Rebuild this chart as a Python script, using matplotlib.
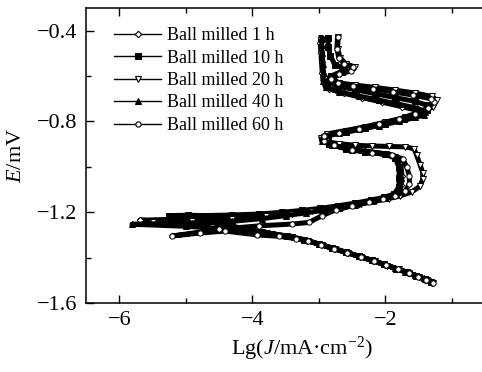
import matplotlib
matplotlib.use('Agg')
import matplotlib.pyplot as plt
from matplotlib.lines import Line2D

plt.rcParams['font.family'] = ['Liberation Serif', 'DejaVu Serif']
plt.rcParams['mathtext.fontset'] = 'custom'
plt.rcParams['mathtext.rm'] = 'Liberation Serif'
plt.rcParams['mathtext.it'] = 'Liberation Serif:italic'

# Tafel curves, points: (lg J, E), cathodic end -> anodic end
j_1h = [-1.30, -1.40, -1.52, -1.66, -1.82, -2.00, -2.18, -2.38, -2.58, -2.78, -2.98, -3.18, -3.40, -3.75,
        -4.20, -4.80, -5.30, -5.69, -5.00, -4.40, -3.90, -3.50, -3.20, -2.92, -2.66, -2.40, -2.16, -1.96,
        -1.82, -1.76, -1.75, -1.77, -1.83, -2.00, -2.30, -2.60, -2.85, -2.95, -2.90, -2.65, -2.35, -2.05,
        -1.78, -1.55, -1.44, -1.48, -1.75, -2.05, -2.35, -2.63, -2.85, -2.93, -2.95, -2.96, -2.97, -2.98, -2.97]
e_1h = [-1.510, -1.497, -1.482, -1.466, -1.450, -1.432, -1.414, -1.396, -1.378, -1.360, -1.342, -1.325, -1.310, -1.293,
        -1.275, -1.255, -1.240, -1.235, -1.230, -1.225, -1.218, -1.208, -1.198, -1.188, -1.176, -1.162, -1.148, -1.133,
        -1.115, -1.080, -1.040, -0.990, -0.955, -0.942, -0.932, -0.918, -0.898, -0.878, -0.860, -0.846, -0.830, -0.812,
        -0.795, -0.782, -0.770, -0.754, -0.735, -0.715, -0.695, -0.675, -0.655, -0.625, -0.585, -0.540, -0.495, -0.455, -0.430]

j_10h = [-1.31, -1.41, -1.54, -1.68, -1.84, -2.02, -2.20, -2.40, -2.60, -2.80, -3.00, -3.22, -3.48, -3.85,
         -4.30, -4.75, -5.25, -4.97, -4.74, -4.30, -3.90, -3.55, -3.25, -2.98, -2.72, -2.46, -2.22, -2.02,
         -1.87, -1.80, -1.79, -1.80, -1.85, -2.00, -2.30, -2.60, -2.85, -2.94, -2.86, -2.60, -2.30, -2.00,
         -1.72, -1.50, -1.38, -1.38, -1.55, -1.85, -2.15, -2.45, -2.72, -2.88, -2.82, -2.66, -2.62, -2.76,
         -2.83, -2.86, -2.86]
e_10h = [-1.508, -1.495, -1.480, -1.464, -1.448, -1.430, -1.412, -1.394, -1.376, -1.358, -1.340, -1.322, -1.306, -1.288,
         -1.262, -1.232, -1.215, -1.213, -1.215, -1.212, -1.208, -1.200, -1.192, -1.183, -1.172, -1.160, -1.147, -1.134,
         -1.120, -1.090, -1.050, -1.000, -0.962, -0.945, -0.935, -0.920, -0.900, -0.880, -0.862, -0.848, -0.830, -0.810,
         -0.790, -0.768, -0.748, -0.728, -0.712, -0.695, -0.678, -0.660, -0.645, -0.625, -0.600, -0.580, -0.565, -0.550,
         -0.510, -0.470, -0.432]

j_20h = [-1.28, -1.38, -1.50, -1.64, -1.80, -1.98, -2.16, -2.36, -2.56, -2.76, -2.96, -3.16, -3.40, -3.70,
         -4.10, -4.60, -5.10, -5.50, -4.90, -4.30, -3.80, -3.40, -3.10, -2.85, -2.60, -2.36, -2.14, -1.95,
         -1.78, -1.60, -1.48, -1.44, -1.44, -1.48, -1.53, -1.57, -1.70, -1.95, -2.20, -2.45, -2.70, -2.90,
         -2.97, -2.88, -2.60, -2.30, -2.00, -1.70, -1.45, -1.28, -1.23, -1.30, -1.55, -1.85, -2.15, -2.45,
         -2.70, -2.80, -2.68, -2.50, -2.46, -2.60, -2.68, -2.72, -2.71]
e_20h = [-1.512, -1.500, -1.486, -1.470, -1.452, -1.435, -1.417, -1.398, -1.380, -1.362, -1.344, -1.327, -1.310, -1.295,
         -1.280, -1.265, -1.252, -1.245, -1.238, -1.228, -1.218, -1.206, -1.196, -1.186, -1.174, -1.162, -1.150, -1.140,
         -1.128, -1.110, -1.085, -1.055, -1.025, -0.990, -0.950, -0.920, -0.912, -0.910, -0.908, -0.905, -0.898, -0.888,
         -0.872, -0.855, -0.840, -0.823, -0.803, -0.782, -0.760, -0.735, -0.705, -0.690, -0.675, -0.662, -0.650, -0.640,
         -0.630, -0.610, -0.590, -0.575, -0.560, -0.545, -0.520, -0.480, -0.428]

j_40h = [-1.32, -1.42, -1.55, -1.70, -1.86, -2.02, -2.20, -2.40, -2.60, -2.80, -3.00, -3.20, -3.45, -3.80,
         -4.30, -5.00, -5.81, -4.90, -4.30, -3.85, -3.50, -3.20, -2.95, -2.70, -2.45, -2.20, -2.00, -1.85,
         -1.78, -1.76, -1.78, -1.84, -1.95, -2.20, -2.50, -2.80, -2.96, -2.93, -2.70, -2.40, -2.10, -1.80,
         -1.55, -1.42, -1.40, -1.52, -1.80, -2.10, -2.40, -2.70, -2.90, -2.94, -2.93, -2.94, -2.95, -2.96, -2.95]
e_40h = [-1.505, -1.492, -1.478, -1.462, -1.446, -1.430, -1.412, -1.394, -1.376, -1.358, -1.340, -1.322, -1.306, -1.290,
         -1.275, -1.262, -1.253, -1.248, -1.240, -1.228, -1.215, -1.203, -1.192, -1.180, -1.166, -1.150, -1.136, -1.120,
         -1.090, -1.050, -1.000, -0.960, -0.945, -0.935, -0.925, -0.905, -0.885, -0.865, -0.850, -0.835, -0.818, -0.800,
         -0.782, -0.770, -0.758, -0.742, -0.724, -0.706, -0.688, -0.670, -0.650, -0.620, -0.585, -0.545, -0.500, -0.465, -0.435]

j_60h = [-1.29, -1.39, -1.51, -1.65, -1.81, -1.99, -2.17, -2.37, -2.57, -2.77, -2.97, -3.17, -3.35, -3.60,
         -3.93, -4.41, -4.79, -5.21, -4.50, -3.90, -3.40, -3.15, -2.95, -2.75, -2.50, -2.25, -2.03, -1.85,
         -1.70, -1.64, -1.64, -1.68, -1.74, -1.90, -2.20, -2.50, -2.78, -2.93, -2.92, -2.70, -2.40, -2.10,
         -1.80, -1.55, -1.36, -1.27, -1.32, -1.58, -1.88, -2.18, -2.48, -2.72, -2.82, -2.70, -2.52, -2.48,
         -2.62, -2.70, -2.73, -2.72]
e_60h = [-1.510, -1.498, -1.484, -1.468, -1.451, -1.433, -1.415, -1.397, -1.379, -1.361, -1.343, -1.326, -1.316, -1.306,
         -1.300, -1.283, -1.292, -1.305, -1.275, -1.260, -1.252, -1.245, -1.215, -1.190, -1.172, -1.157, -1.143, -1.128,
         -1.105, -1.075, -1.040, -1.000, -0.965, -0.948, -0.938, -0.925, -0.905, -0.885, -0.866, -0.850, -0.833, -0.812,
         -0.790, -0.765, -0.740, -0.715, -0.700, -0.684, -0.670, -0.656, -0.644, -0.632, -0.612, -0.592, -0.577, -0.562,
         -0.547, -0.520, -0.480, -0.428]

labels = ['Ball milled 1 h', 'Ball milled 10 h', 'Ball milled 20 h', 'Ball milled 40 h', 'Ball milled 60 h']
curves = [(j_1h, e_1h), (j_10h, e_10h), (j_20h, e_20h), (j_40h, e_40h), (j_60h, e_60h)]
markers = ['D', 's', 'v', '^', 'o']
fills = ['white', 'black', 'white', 'black', 'white']
msizes = [3.3, 3.8, 4.2, 4.2, 3.8]

fig = plt.figure(figsize=(4.82, 3.72), dpi=100)
# right edge of the axes lies outside the picture (cropped like the original)
ax = fig.add_axes([86 / 482, 1 - 303 / 372, (518.5 - 86) / 482, (303 - 8) / 372])

handles = []
for (jj, ee), lab, mk, fc, ms in zip(curves, labels, markers, fills, msizes):
    ax.plot(jj, ee, color='black', lw=3.6, marker=mk, markersize=ms,
            markerfacecolor=fc, markeredgecolor='black', markeredgewidth=0.7)
    handles.append(Line2D([], [], color='black', lw=1.0, marker=mk, markersize=ms,
                          markerfacecolor=fc, markeredgecolor='black', markeredgewidth=0.8, label=lab))

ax.set_xlim(-6.5, 0)
ax.set_ylim(-1.6, -0.3)
ax.set_xticks([-6, -4, -2])
ax.set_xticks([-5, -3, -1], minor=True)
ax.set_yticks([-1.6, -1.2, -0.8, -0.4])
ax.set_yticks([-1.4, -1.0, -0.6], minor=True)
ax.set_yticklabels(['\u22121.6', '\u22121.2', '\u22120.8', '\u22120.4'])
ax.set_xticklabels(['\u22126', '\u22124', '\u22122'])
ax.tick_params(which='both', direction='in', top=True, right=False, labelsize=16, width=1)
ax.tick_params(which='major', length=6, pad=6)
ax.tick_params(which='minor', length=3.5)
ax.spines['right'].set_visible(False)
for s in ['left', 'bottom', 'top']:
    ax.spines[s].set_linewidth(1.1)

ax.set_xlabel('Lg($J$/mA\u00b7cm$^{-2}$)', fontsize=16, labelpad=3)
ax.set_ylabel('$E$/mV', fontsize=16, labelpad=8)

ax.legend(handles=handles, loc='upper left', bbox_to_anchor=(0.065, 0.935), frameon=False,
          fontsize=13, handlelength=2.6, handletextpad=0.35, labelspacing=0.3, borderaxespad=0,
          borderpad=0)

fig.savefig('out.png', dpi=100)
